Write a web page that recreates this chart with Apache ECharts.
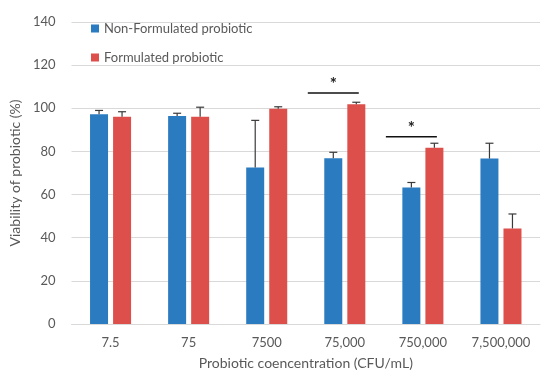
<!DOCTYPE html>
<html><head><meta charset="utf-8">
<script src="https://cdn.jsdelivr.net/npm/echarts@6/dist/echarts.min.js"></script>
<style>html,body{margin:0;padding:0;background:#fff}#c{width:550px;height:380px}</style>
</head><body><div id="c"></div>
<script>
var categories = ['7.5', '75', '7500', '75,000', '750,000', '7,500,000'];
var nonFormulated = [97.2, 96.4, 72.6, 76.8, 63.3, 76.7];
var nonFormulatedErr = [1.8, 1.3, 21.8, 2.8, 2.3, 7.1];
var formulated = [96.1, 96.1, 99.8, 101.9, 81.7, 44.3];
var formulatedErr = [2.3, 4.4, 0.9, 0.9, 2.1, 6.7];
var sigIndex = [3, 4];
var sigLevel = [107.1, 86.8];
var sigLabel = ['*', '*'];
var yTicks = [0, 140, 20];

var txt = '#595959';
var font = 'Lato';
var blue = '#2A7BC0';
var red = '#DD4F4A';

function errSeries(values, errs, seriesIdx) {
  var data = values.map(function (v, i) { return [i, v, v + errs[i]]; });
  return {
    type: 'custom', silent: true, z: 5,
    renderItem: function (params, api) {
      var i = api.value(0);
      var base = api.coord([i, api.value(1)]);
      var top = api.coord([i, api.value(2)]);
      var bw = 18, gap = 5;
      var off = seriesIdx === 0 ? -(bw + gap) / 2 : (bw + gap) / 2;
      var x = base[0] + off;
      var st = { stroke: '#3a3a3a', lineWidth: 1.2 };
      return { type: 'group', children: [
        { type: 'line', shape: { x1: x, y1: base[1], x2: x, y2: top[1] }, style: st },
        { type: 'line', shape: { x1: x - 4, y1: top[1], x2: x + 4, y2: top[1] }, style: st }
      ]};
    },
    data: data
  };
}

var sigData = sigIndex.map(function (c, k) { return [c, sigLevel[k], sigLabel[k]]; });

var option = {
  animation: false,
  textStyle: { fontFamily: font },
  grid: { left: 66, right: 10, top: 22, bottom: 56 },
  legend: {
    orient: 'vertical', left: 86, top: 17, itemGap: 16,
    icon: 'rect', itemWidth: 8, itemHeight: 8,
    textStyle: { color: txt, fontSize: 13, fontFamily: font },
    data: ['Non-Formulated probiotic', 'Formulated probiotic']
  },
  xAxis: {
    type: 'category', data: categories,
    axisLine: { show: true, lineStyle: { color: '#d9d9d9' } },
    axisTick: { show: false },
    axisLabel: { color: txt, fontSize: 13, margin: 12, fontFamily: font },
    name: 'Probiotic coencentration (CFU/mL)', nameLocation: 'middle', nameGap: 32,
    nameTextStyle: { color: txt, fontSize: 14, fontFamily: font }
  },
  yAxis: {
    type: 'value', min: yTicks[0], max: yTicks[1], interval: yTicks[2],
    axisLine: { show: false }, axisTick: { show: false },
    axisLabel: { color: txt, fontSize: 13, margin: 16, fontFamily: font },
    splitLine: { lineStyle: { color: '#d9d9d9', width: 1 } },
    name: 'Viability of probiotic (%)', nameLocation: 'middle', nameGap: 44,
    nameTextStyle: { color: txt, fontSize: 14, fontFamily: font }
  },
  series: [
    { name: 'Non-Formulated probiotic', type: 'bar', data: nonFormulated, barWidth: 18, barGap: '28%',
      itemStyle: { color: blue } },
    { name: 'Formulated probiotic', type: 'bar', data: formulated, barWidth: 18,
      itemStyle: { color: red } },
    errSeries(nonFormulated, nonFormulatedErr, 0),
    errSeries(formulated, formulatedErr, 1),
    {
      type: 'custom', silent: true, z: 6,
      renderItem: function (params, api) {
        var p = api.coord([api.value(0), api.value(1)]);
        var x1 = p[0] - 37, x2 = p[0] + 14;
        return { type: 'group', children: [
          { type: 'line', shape: { x1: x1, y1: p[1], x2: x2, y2: p[1] }, style: { stroke: '#111', lineWidth: 1.6 } },
          { type: 'text', style: { text: sigData[params.dataIndex][2], x: (x1 + x2) / 2, y: p[1] - 8,
            textAlign: 'center', textVerticalAlign: 'middle', fill: '#222', font: 'bold 17px ' + font } }
        ]};
      },
      data: sigData
    }
  ]
};
echarts.init(document.getElementById('c')).setOption(option);
</script></body></html>
